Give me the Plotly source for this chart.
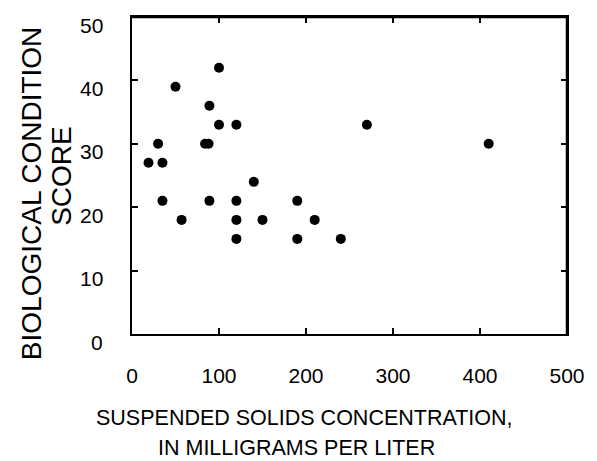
import plotly.graph_objects as go

# Suspended solids (mg/L) and biological condition score at each site
suspended_solids = [100, 50, 89, 100, 120, 30, 84, 88, 19, 35, 140, 270, 410,
                    35, 89, 120, 190, 57, 120, 150, 210, 120, 190, 240]
bio_score = [42, 39, 36, 33, 33, 30, 30, 30, 27, 27, 24, 33, 30,
             21, 21, 21, 21, 18, 18, 18, 18, 15, 15, 15]

x_ticks = [0, 100, 200, 300, 400, 500]
y_ticks = [0, 10, 20, 30, 40, 50]

FONT = "Liberation Sans, Arial, sans-serif"
TICK_FONT = dict(family=FONT, size=21, color="black")
TITLE_FONT = dict(family=FONT, size=21.5, color="black")
YTITLE_FONT = dict(family=FONT, size=28, color="black")

fig = go.Figure()
fig.add_trace(go.Scatter(
    x=suspended_solids, y=bio_score, mode="markers",
    marker=dict(color="black", size=10, line=dict(width=0)),
    showlegend=False, hoverinfo="x+y", cliponaxis=False,
))

axis_common = dict(
    showline=True, linecolor="black", linewidth=2, mirror="allticks",
    ticks="inside", ticklen=6, tickwidth=1.5, tickcolor="black",
    showgrid=False, zeroline=False,
)

fig.update_xaxes(range=[0, 500], tickvals=x_ticks, ticktext=[str(v) for v in x_ticks],
                 tickfont=TICK_FONT, ticklabelstandoff=22, **axis_common)
fig.update_yaxes(range=[0, 50], tickvals=y_ticks, showticklabels=False, **axis_common)

# top and right edges of the frame
fig.add_shape(type="line", xref="paper", yref="paper", x0=0, y0=1, x1=1, y1=1,
              line=dict(color="black", width=2.5), layer="above")
fig.add_shape(type="line", xref="paper", yref="paper", x0=1, y0=0, x1=1, y1=1,
              line=dict(color="black", width=2.5), layer="above")

# y tick labels sit slightly below their ticks
for v in y_ticks:
    fig.add_annotation(text=str(v), xref="paper", yref="y", x=-(132 - 105) / 440, y=v,
                       yshift=-8, showarrow=False, font=TICK_FONT,
                       xanchor="right", yanchor="middle")

fig.add_annotation(text="SUSPENDED SOLIDS CONCENTRATION,", xref="paper", yref="paper",
                   x=(306 - 132) / 440, y=-(418 - 334) / 317, showarrow=False,
                   font=TITLE_FONT, xanchor="center", yanchor="middle")
fig.add_annotation(text="IN MILLIGRAMS PER LITER", xref="paper", yref="paper",
                   x=(298 - 132) / 440, y=-(448 - 334) / 317, showarrow=False,
                   font=TITLE_FONT, xanchor="center", yanchor="middle")
fig.add_annotation(text="BIOLOGICAL CONDITION", xref="paper", yref="paper",
                   x=-(132 - 30) / 440, y=(334 - 194) / 317, showarrow=False, textangle=-90,
                   font=YTITLE_FONT, xanchor="center", yanchor="middle")
fig.add_annotation(text="SCORE", xref="paper", yref="paper",
                   x=-(132 - 60) / 440, y=(334 - 176) / 317, showarrow=False, textangle=-90,
                   font=YTITLE_FONT, xanchor="center", yanchor="middle")

fig.update_layout(
    width=597, height=461,
    margin=dict(l=132, r=25, t=17, b=127),
    plot_bgcolor="white", paper_bgcolor="white",
)

fig.write_html("out.html")
